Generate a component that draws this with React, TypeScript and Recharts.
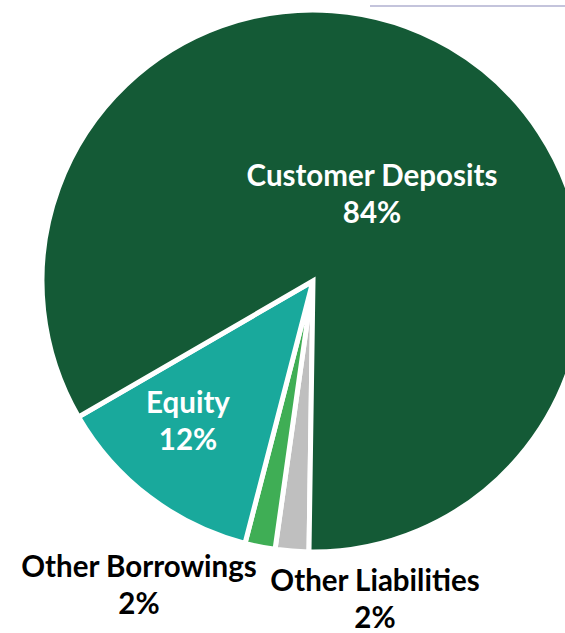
import { PieChart, Pie, Cell } from 'recharts'

// slices in clockwise order, starting just left of the bottom
const names = ['Other Liabilities', 'Other Borrowings', 'Equity', 'Customer Deposits']
const values = [2.0, 1.8, 12.6, 83.6]
const pctLabels = ['2%', '2%', '12%', '84%']

const COLORS = ['#BFBFBF', '#3FAE55', '#19A99C', '#145A36']
const LABEL_COLORS = ['#000', '#000', '#fff', '#fff']
// label offset from the pie centre (x of text centre, y of first baseline)
const LABEL_POS = [
  { dx: 62, dy: 310 },
  { dx: -174, dy: 296 },
  { dx: -125, dy: 132 },
  { dx: 59, dy: -95 },
]

const data = names.map((name, i) => ({ name, value: values[i] }))

const renderLabel = (props: any) => {
  const { cx, cy, index } = props
  const p = LABEL_POS[index]
  const x = cx + p.dx
  const y = cy + p.dy
  return (
    <text
      key={index}
      x={x}
      y={y}
      fill={LABEL_COLORS[index]}
      textAnchor="middle"
      fontFamily="Lato, sans-serif"
      fontWeight="bold"
      fontSize={29.5}
    >
      <tspan x={x} y={y}>{names[index]}</tspan>
      <tspan x={x} y={y + 37}>{pctLabels[index]}</tspan>
    </text>
  )
}

export default function App() {
  return (
    <div style={{ position: 'absolute', left: 0, top: 0, width: 565, height: 633, background: '#fff', overflow: 'hidden' }}>
      <div
        style={{
          position: 'absolute',
          left: 370,
          top: 5,
          width: 195,
          height: 2,
          background: '#c4c4dc',
        }}
      />
      <PieChart width={565} height={633} margin={{ top: 0, right: 0, bottom: 0, left: 0 }}>
        <Pie
          data={data}
          dataKey="value"
          nameKey="name"
          cx={313}
          cy={281}
          outerRadius={271}
          innerRadius={0}
          startAngle={269.15}
          endAngle={-90.85}
          stroke="#fff"
          strokeWidth={5}
          label={renderLabel}
          labelLine={false}
          isAnimationActive={false}
        >
          {data.map((_, i) => (
            <Cell key={i} fill={COLORS[i]} />
          ))}
        </Pie>
      </PieChart>
    </div>
  )
}
